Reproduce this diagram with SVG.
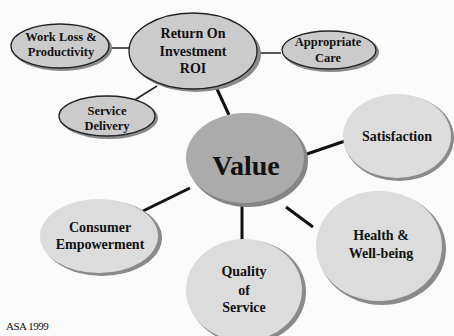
<svg xmlns="http://www.w3.org/2000/svg" width="454" height="336" viewBox="0 0 454 336">
<defs>
<style>
.t{font-family:"Liberation Serif","Tinos","Times New Roman","DejaVu Serif Condensed","DejaVu Serif",serif;font-weight:bold;fill:#111;text-anchor:middle}
.sm{font-size:12.5px}
.md{font-size:14px}
.sh{fill:#8a8a8a}
.o{fill:#cbcbcb;stroke:#222;stroke-width:1.3}
.l{fill:#dcdcdc}
.c1{stroke:#222;stroke-width:1.5;fill:none}
.c2{stroke:#111;stroke-width:3;fill:none}
</style>
</defs>
<rect width="454" height="336" fill="#fbfbfb"/>
<g id="connectors">
<line class="c1" x1="110" y1="48" x2="130" y2="48"/>
<line class="c1" x1="133" y1="101" x2="157" y2="86"/>
<line class="c1" x1="257" y1="53" x2="281" y2="53"/>
<line class="c2" x1="217" y1="89" x2="229" y2="115"/>
<line class="c2" x1="304" y1="155" x2="345" y2="141"/>
<line class="c2" x1="143" y1="211" x2="190" y2="188"/>
<line class="c2" x1="286" y1="207" x2="313" y2="227"/>
<line class="c2" x1="242" y1="204" x2="242" y2="241"/>
</g>
<g id="roi">
<ellipse class="sh" cx="196" cy="54" rx="65" ry="38"/>
<ellipse class="o" cx="193" cy="51" rx="64" ry="38"/>
<text class="t md" x="193" y="38">Return On</text>
<text class="t md" x="193" y="56">Investment</text>
<text class="t md" x="193" y="73">ROI</text>
</g>
<g id="workloss">
<ellipse class="sh" cx="62" cy="48" rx="50" ry="23"/>
<ellipse class="o" cx="60" cy="46" rx="49" ry="22"/>
<text class="t sm" x="61" y="41">Work Loss &amp;</text>
<text class="t sm" x="61" y="56">Productivity</text>
</g>
<g id="service-delivery">
<ellipse class="sh" cx="109" cy="118" rx="49" ry="21"/>
<ellipse class="o" cx="107" cy="116" rx="48" ry="20"/>
<text class="t sm" x="107" y="115">Service</text>
<text class="t sm" x="107" y="130">Delivery</text>
</g>
<g id="appropriate-care">
<ellipse class="sh" cx="331" cy="52" rx="48" ry="20"/>
<ellipse class="o" cx="329" cy="50" rx="47" ry="19"/>
<text class="t sm" x="328" y="46">Appropriate</text>
<text class="t sm" x="328" y="62">Care</text>
</g>
<g id="value">
<ellipse cx="248" cy="161" rx="60" ry="46" fill="#858585"/>
<ellipse cx="245" cy="158" rx="59" ry="45" fill="#ababab"/>
<text class="t" x="246" y="175" font-size="28">Value</text>
</g>
<g id="satisfaction">
<ellipse class="sh" cx="399" cy="138" rx="55" ry="43"/>
<ellipse class="l" cx="397" cy="136" rx="54" ry="42"/>
<text class="t md" x="397" y="141">Satisfaction</text>
</g>
<g id="consumer">
<ellipse class="sh" cx="102" cy="238" rx="60" ry="38"/>
<ellipse class="l" cx="99" cy="236" rx="59" ry="37"/>
<text class="t md" x="100" y="232">Consumer</text>
<text class="t md" x="100" y="249">Empowerment</text>
</g>
<g id="health">
<ellipse class="sh" cx="382" cy="249" rx="64" ry="56"/>
<ellipse class="l" cx="379" cy="246" rx="63" ry="55"/>
<text class="t md" x="381" y="240">Health &amp;</text>
<text class="t md" x="381" y="258">Well-being</text>
</g>
<g id="quality">
<ellipse class="sh" cx="247" cy="292" rx="59" ry="52"/>
<ellipse class="l" cx="244" cy="290" rx="58" ry="51"/>
<text class="t md" x="244" y="276">Quality</text>
<text class="t md" x="244" y="295">of</text>
<text class="t md" x="244" y="312">Service</text>
</g>
<text x="6" y="330" font-family="'Liberation Serif','Tinos','DejaVu Serif Condensed','DejaVu Serif',serif" font-size="11" fill="#111" letter-spacing="-0.5">ASA 1999</text>
</svg>
